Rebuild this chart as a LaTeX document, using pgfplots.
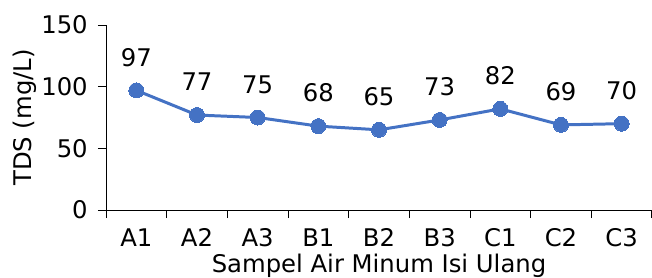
\documentclass[border=0pt]{standalone}
\usepackage{fontspec}
\setmainfont{DejaVu Sans}
\usepackage{pgfplots}
\pgfplotsset{compat=1.18}
\definecolor{lineblue}{HTML}{4472C4}
\newcommand{\chartfont}{\fontsize{24.3bp}{29bp}\selectfont}
\begin{document}
\chartfont
\begin{tikzpicture}
\begin{axis}[
  at={(0,0)}, anchor=south west,
  scale only axis, width=546bp, height=185bp,
  xmin=0, xmax=9, ymin=0, ymax=150,
  axis lines*=left,
  axis line style={black, line width=1pt},
  tick style={black, line width=1pt},
  major tick length=8bp,
  tick align=outside,
  ytick={0,50,100,150},
  xtick={0,...,9},
  xticklabels={A1,A2,A3,B1,B2,B3,C1,C2,C3,{}},
  xticklabel style={xshift=30.33bp, yshift=-2bp},
  yticklabel style={xshift=-2bp},
  /pgf/number format/assume math mode=true,
  ticklabel style={font=\chartfont},
  xlabel={Sampel Air Minum Isi Ulang},
  ylabel={TDS (mg/L)},
  x label style={at={([yshift=-56bp]axis description cs:0.5,0)}, anchor=center},
  y label style={at={([xshift=-81bp]axis description cs:0,0.5)}, anchor=center, rotate=0},
  label style={font=\chartfont},
  nodes near coords,
  every node near coord/.append style={anchor=center, yshift=33bp, font=\chartfont, black},
  clip=false,
]
\addplot[color=lineblue, line width=3pt, mark=*, mark size=7.5bp, mark options={fill=lineblue, draw=lineblue, line width=0pt}]
  coordinates {(0.5,97) (1.5,77) (2.5,75) (3.5,68) (4.5,65) (5.5,73) (6.5,82) (7.5,69) (8.5,70)};
\end{axis}
\pgfresetboundingbox
\useasboundingbox (-106bp,-68bp) rectangle (546bp,210bp);
\end{tikzpicture}
\end{document}
